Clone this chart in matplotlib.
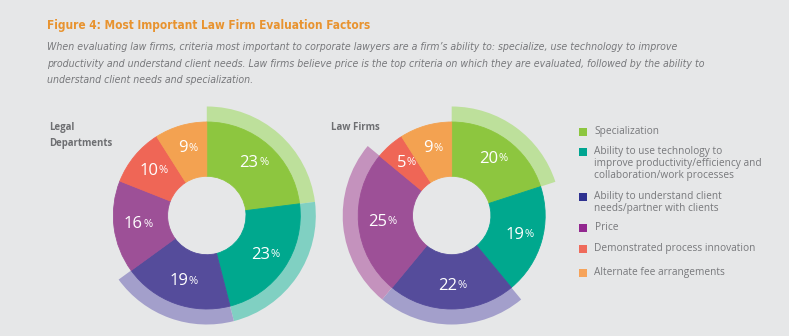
import os
import matplotlib
matplotlib.use("Agg")
import matplotlib.pyplot as plt
import numpy as np
from matplotlib import font_manager as fm
from matplotlib.patches import Rectangle

# ---- data -------------------------------------------------------------------
factors = [
    "Specialization",
    "Ability to use technology to\nimprove productivity/efficiency and\ncollaboration/work processes",
    "Ability to understand client\nneeds/partner with clients",
    "Price",
    "Demonstrated process innovation",
    "Alternate fee arrangements",
]
legal_pct = [23, 23, 19, 16, 10, 9]
firms_pct = [20, 19, 22, 25, 5, 9]
legal_top3 = [True, True, True, False, False, False]
firms_top3 = [True, False, True, True, False, False]

# ---- palette ------------------------------------------------------------------
BG = "#e6e7e8"
WEDGE = ["#8dc63f", "#00a88e", "#554c9b", "#9d5097", "#ef6656", "#f3a251"]
LIGHT = ["#bde09b", "#80d0c2", "#a39fcb", "#c492bd", "#f5b2aa", "#f8d0a8"]
KEY = ["#8dc63f", "#00a591", "#2e3190", "#92278f", "#ef6b5b", "#f6a35a"]
ORANGE = "#e8932f"
GREY = "#77787b"
GREY_DK = "#6d6e71"

W, H = 789, 336
fig = plt.figure(figsize=(W / 100, H / 100), dpi=100, facecolor=BG)
renderer = fig.canvas.get_renderer()

SANS = ["Open Sans", "DejaVu Sans"]


# condensed face if the box has one (the original uses a condensed sans)
def narrow_face(tag):
    for f in fm.fontManager.ttflist:
        base = os.path.basename(f.fname).lower()
        nm = f.name.lower()
        if ("condensed" in nm or "narrow" in nm or "condensed" in base
                or "narrow" in base or f.stretch in ("condensed", "semi-condensed")):
            if tag == "bold" and "bold" in base and "oblique" not in base and "italic" not in base:
                return fm.FontProperties(fname=f.fname)
            if tag == "italic" and ("oblique" in base or "italic" in base) and "bold" not in base:
                return fm.FontProperties(fname=f.fname)
    if tag == "bold":
        return fm.FontProperties(family=SANS, weight="bold")
    return fm.FontProperties(family=SANS, style="italic")


def fit(t, target):
    w = t.get_window_extent(renderer).width
    t.set_fontsize(t.get_fontsize() * target / w)


# ---- title + subtitle -------------------------------------------------------------
t = fig.text(47 / W, 1 - 26 / H, "Figure 4: Most Important Law Firm Evaluation Factors",
             fontproperties=narrow_face("bold"), color=ORANGE, va="center")
t.set_fontsize(11)
fit(t, 322)
sub = [
    "When evaluating law firms, criteria most important to corporate lawyers are a firm\u2019s ability to: specialize, use technology to improve",
    "productivity and understand client needs. Law firms believe price is the top criteria on which they are evaluated, followed by the ability to",
    "understand client needs and specialization.",
]
it = narrow_face("italic")
subs = []
for i, ln in enumerate(sub):
    s = fig.text(47 / W, 1 - (47.5 + 16.2 * i) / H, ln, fontproperties=it,
                 color=GREY, va="center")
    s.set_fontsize(8)
    subs.append(s)
fit(subs[0], 626)
for s in subs[1:]:
    s.set_fontsize(subs[0].get_fontsize())

# ---- donuts ---------------------------------------------------------------------
R_OUT, R_IN, R_HI = 93.5, 39.2, 109.0
BOX = 114.0


def donut(cx, cy, pct, top3):
    ax = fig.add_axes([(cx - BOX) / W, 1 - (cy + BOX) / H, 2 * BOX / W, 2 * BOX / H])
    ax.axis("off")
    hi_cols = [LIGHT[i] if t else "none" for i, t in enumerate(top3)]
    ax.pie(pct, colors=hi_cols, radius=R_HI, startangle=90, counterclock=False,
           wedgeprops=dict(width=R_HI - R_OUT + 2, lw=0))
    wedges, _ = ax.pie(pct, colors=WEDGE, radius=R_OUT, startangle=90,
                       counterclock=False,
                       wedgeprops=dict(width=R_OUT - R_IN, lw=0.6))
    for w in wedges:
        w.set_edgecolor(w.get_facecolor())
    ax.set_xlim(-BOX, BOX); ax.set_ylim(-BOX, BOX); ax.set_aspect("equal")
    for w, v in zip(wedges, pct):
        a = np.deg2rad((w.theta1 + w.theta2) / 2)
        x, y = 70 * np.cos(a), 70 * np.sin(a)
        num = ax.text(x - 4, y, str(v), family=SANS, fontsize=12, color="white",
                      ha="center", va="center")
        ax.annotate("%", xy=(1, 0.17), xycoords=num, xytext=(0.3, 0),
                    textcoords="offset points", family=SANS, fontsize=8,
                    color="white", ha="left", va="bottom")
    return ax


donut(206.8, 215.5, legal_pct, legal_top3)
donut(451.7, 215.5, firms_pct, firms_top3)

fig.text(49 / W, 1 - 127.5 / H, "Legal", family=SANS, fontsize=6.9,
         fontweight="bold", color=GREY_DK, va="center")
fig.text(49 / W, 1 - 143.5 / H, "Departments", family=SANS, fontsize=6.9,
         fontweight="bold", color=GREY_DK, va="center")
fig.text(331 / W, 1 - 127 / H, "Law Firms", family=SANS, fontsize=6.9,
         fontweight="bold", color=GREY_DK, va="center")

# ---- legend ---------------------------------------------------------------------
key_y = [132.3, 152.3, 197.3, 227.7, 249.0, 273.3]
for lab, c, y in zip(factors, KEY, key_y):
    fig.patches.append(Rectangle((579 / W, 1 - (y + 4) / H), 8 / W, 8 / H,
                                 transform=fig.transFigure, fc=c, ec="none"))
    fig.text(594.5 / W, 1 - (y - 6) / H, lab, family=SANS, fontsize=7.3,
             color=GREY, va="top", linespacing=1.13)

fig.savefig("out.png", dpi=100, facecolor=BG)
